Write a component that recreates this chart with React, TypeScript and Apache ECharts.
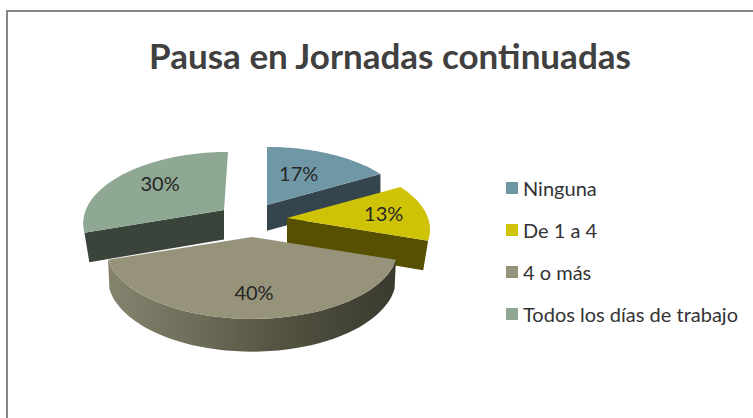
import React, { useEffect, useRef } from "react";
import * as echarts from "echarts";

const titleText = "Pausa en Jornadas continuadas";
const categories = ["Ninguna", "De 1 a 4", "4 o más", "Todos los días de trabajo"];
const values = [17, 13, 40, 30];
const topColors = ["#7097a6", "#cfc308", "#96937a", "#8ea894"];
const sideColors = ["#34454d", "#565000", "#5c5a48", "#3a443b"];

// Drawing-only settings for each exploded slice of the 3D pie.
const apexes = [[267, 205], [287, 218], [252, 237], [224, 210]];
const skews = [0, 0, 0, 4];
const widthScale = [1, 1, 1.02, 0.98];
const baseShrink = [1, 0.965, 0.99, 0.965];
const sideKinds = ["end", "end", "rim", "start"];
const labelRadius = [0.55, 0.7, 0.67, 0.65];
const labelNudge = [[-2, -4], [0, 0], [2, 0], [0, -3]];
const drawOrder = [1, 3, 4, 2];

const RX = 141;
const RY = 70;
const PERSPECTIVE = 0.17;
const DEPTH = 28;
const FONT = "Lato, sans-serif";

const total = values.reduce((s, v) => s + v, 0);

function sliceAngles(i: number) {
  const before = values.slice(0, i).reduce((s, v) => s + v, 0);
  return [(before / total) * Math.PI * 2, ((before + values[i]) / total) * Math.PI * 2];
}

function project(i: number, t: number, r: number, low: number) {
  const f = 1 - PERSPECTIVE * Math.cos(t);
  const [ax, ay] = apexes[i];
  const shrink = low ? baseShrink[i] : 1;
  return [
    ax + shrink * (RX * widthScale[i] * r * f * Math.sin(t) + skews[i] * r * Math.cos(t)),
    ay - RY * r * f * Math.cos(t) + low * DEPTH * f,
  ];
}

function arcPoints(i: number, from: number, to: number, low: number) {
  const pts: number[][] = [];
  const steps = 48;
  for (let s = 0; s <= steps; s++) {
    pts.push(project(i, from + ((to - from) * s) / steps, 1, low));
  }
  return pts;
}

function makeRenderItem(i: number) {
  return (_params: any, api: any) => {
    const [start, end] = sliceAngles(i);
    const children: any[] = [];
    const kind = sideKinds[i];
    if (kind === "rim") {
      children.push({
        type: "polygon",
        shape: {
          points: [...arcPoints(i, start, end, 0), ...arcPoints(i, end, start, 1)],
        },
        style: {
          fill: new echarts.graphic.LinearGradient(0, 0, 1, 0, [
            { offset: 0, color: "#85836e" },
            { offset: 0.3, color: "#6e6d59" },
            { offset: 0.6, color: "#545341" },
            { offset: 1, color: "#393a2e" },
          ]),
        },
      });
    } else {
      const a = kind === "end" ? end : start;
      children.push({
        type: "polygon",
        shape: {
          points: [
            project(i, a, 0, 0),
            project(i, a, 1, 0),
            project(i, a, 1, 1),
            project(i, a, 0, 1),
          ],
        },
        style: { fill: sideColors[i] },
      });
    }
    children.push({
      type: "polygon",
      shape: { points: [project(i, 0, 0, 0), ...arcPoints(i, start, end, 0)] },
      style: { fill: topColors[i] },
    });
    const mid = (start + end) / 2;
    const [lx, ly] = project(i, mid, labelRadius[i], 0);
    children.push({
      type: "text",
      x: lx + labelNudge[i][0],
      y: ly + labelNudge[i][1],
      style: {
        text: `${Math.round((api.value(0) / total) * 100)}%`,
        fill: "#262626",
        font: `20px ${FONT}`,
        align: "center",
        verticalAlign: "middle",
      },
    });
    return { type: "group", children };
  };
}

export default function App() {
  const ref = useRef<HTMLDivElement>(null);
  useEffect(() => {
    document.body.style.margin = "0";
    const chart = echarts.init(ref.current!, null, { renderer: "svg" });
    chart.setOption({
      animation: false,
      backgroundColor: "#ffffff",
      color: topColors,
      title: {
        text: titleText,
        left: 385,
        top: 32,
        textAlign: "center",
        textStyle: { fontFamily: FONT, fontSize: 35, fontWeight: "bold", color: "#404040" },
      },
      legend: {
        orient: "vertical",
        left: 501,
        top: 173,
        icon: "rect",
        itemWidth: 12,
        itemHeight: 12,
        itemGap: 22,
        selectedMode: false,
        data: categories,
        textStyle: { fontFamily: FONT, fontSize: 20, color: "#333333", height: 20, lineHeight: 20 },
      },
      graphic: [
        {
          type: "rect",
          z: -1,
          shape: { x: 7, y: 11, width: 900, height: 600 },
          style: { fill: "#ffffff", stroke: "#868686", lineWidth: 2 },
        },
      ],
      series: categories.map((name, i) => ({
        type: "custom",
        name,
        coordinateSystem: "none",
        silent: true,
        z: drawOrder[i],
        itemStyle: { color: topColors[i] },
        data: [[values[i]]],
        renderItem: makeRenderItem(i),
      })),
    });
    return () => chart.dispose();
  }, []);
  return <div ref={ref} style={{ width: 753, height: 418 }} />;
}
